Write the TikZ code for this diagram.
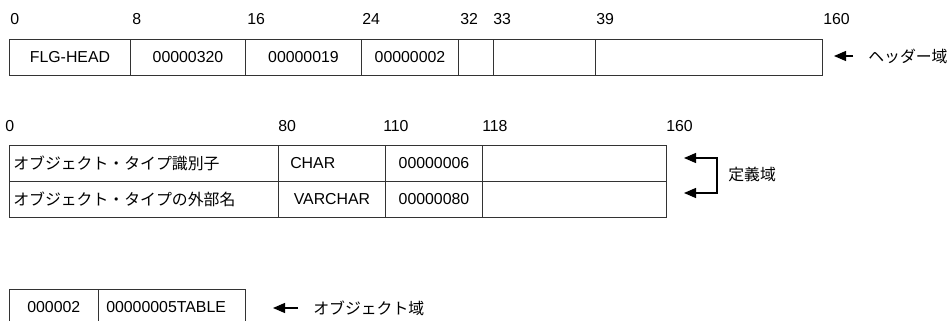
\documentclass[tikz,border=0pt]{standalone}
\usepackage{fontspec}
\setmainfont{Liberation Sans}
\newfontfamily\jp{Noto Sans CJK JP}
\usetikzlibrary{arrows.meta}
\begin{document}
\begin{tikzpicture}[x=0.75pt,y=-0.75pt,
  font=\fontsize{11.9}{14}\selectfont,
  cell/.style={draw=black!80, line width=0.75pt, rectangle, inner sep=0pt, anchor=north west, minimum height=27pt},
  tick/.style={anchor=base west, inner sep=0pt},
  txt/.style={anchor=west, inner sep=0pt},
  lab/.style={anchor=west, inner sep=0pt, inner xsep=11.25pt, font=\fontsize{11.9}{14}\selectfont\jp},
  arr/.style={-{Triangle[length=9pt,width=7.5pt]}, line width=0.9pt, draw=black}]
\useasboundingbox (0,0) rectangle (950,321);

% ---------- header area ----------
\node[cell, minimum width=90.75pt] (h1) at (9,39) {FLG-HEAD};
\node[cell, minimum width=86.25pt] (h2) at (130,39) {00000320};
\node[cell, minimum width=87pt]    (h3) at (245,39) {00000019};
\node[cell, minimum width=72.75pt] (h4) at (361,39) {00000002};
\node[cell, minimum width=26.25pt] (h5) at (458,39) {};
\node[cell, minimum width=76.5pt]  (h6) at (493,39) {};
\node[cell, minimum width=170.25pt] (h7) at (595,39) {};

\node[tick] (t0)  at (10,24.5)  {0};
\node[tick] (t8)  at (132,24.5) {8};
\node[tick] (t16) at (247,24.5) {16};
\node[tick] (t24) at (362,24.5) {24};
\node[tick] (t32) at (460,24.5) {32};
\node[tick] (t33) at (493,24.5) {33};
\node[tick] (t39) at (596,24.5) {39};
\node[tick] (t160) at (823,24.5) {160};

\coordinate (htip) at (834,56);
\node[lab] (hlab) at (853,56) {ヘッダー域};
\draw[arr] (hlab.west) -- (htip);

% ---------- definition area ----------
\node[cell, minimum width=201.75pt] (d11) at (9,145) {};
\node[cell, minimum width=80.25pt]  (d12) at (278,145) {};
\node[cell, minimum width=72.75pt]  (d13) at (385,145) {00000006};
\node[cell, minimum width=138pt]    (d14) at (482,145) {};
\node[cell, minimum width=201.75pt] (d21) at (9,181) {};
\node[cell, minimum width=80.25pt]  (d22) at (278,181) {VARCHAR};
\node[cell, minimum width=72.75pt]  (d23) at (385,181) {00000080};
\node[cell, minimum width=138pt]    (d24) at (482,181) {};

\node[txt, font=\fontsize{11.9}{14}\selectfont\jp] (j1) at (13,163) {オブジェクト・タイプ識別子};
\node[txt, font=\fontsize{11.9}{14}\selectfont\jp] (j2) at (13,199) {オブジェクト・タイプの外部名};
\node[txt] (c1) at (290,163) {CHAR};

\node[tick] (m0)   at (5,132)   {0};
\node[tick] (m80)  at (278,132) {80};
\node[tick] (m110) at (383,132) {110};
\node[tick] (m118) at (482,132) {118};
\node[tick] (m160) at (666,132) {160};

\coordinate (dtip1) at (684,158);
\coordinate (dtip2) at (684,193);
\coordinate (dm) at (717,175);
\node[anchor=west, inner sep=0pt, font=\fontsize{11.9}{14}\selectfont\jp] (dlab) at (728,174) {定義域};
\draw[arr] (dm) |- (dtip1);
\draw[arr] (dm) |- (dtip2);

% ---------- object area ----------
\node[anchor=north west, inner sep=0pt, minimum width=66.75pt, minimum height=27pt] (o1) at (9,289) {000002};
\node[anchor=north west, inner sep=0pt, minimum width=110.25pt, minimum height=27pt] (o2) at (98,289) {};
\node[txt] (o2t) at (106,307) {00000005TABLE};
\draw[draw=black!80, line width=0.75pt] (o1.south west) -- (o1.north west) -- (o2.north east) -- (o2.south east);
\draw[draw=black!80, line width=0.75pt] (o1.north east) -- (o1.south east);

\coordinate (otip) at (273,308);
\node[lab] (olab) at (298,308) {オブジェクト域};
\draw[arr] (olab.west) -- (otip);
\end{tikzpicture}
\end{document}
